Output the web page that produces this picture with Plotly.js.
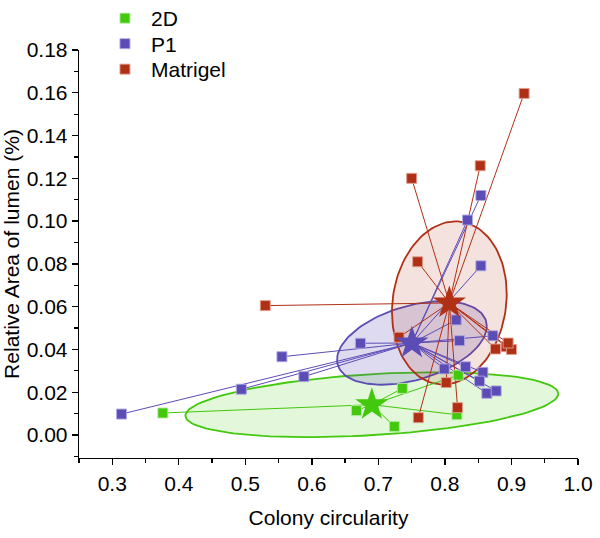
<!DOCTYPE html>
<html>
<head>
<meta charset="utf-8">
<script src="https://cdn.plot.ly/plotly-3.0.1.min.js"></script>
<style>html,body{margin:0;padding:0;background:#fff;}#chart{width:600px;height:538px;}</style>
</head>
<body>
<div id="chart"></div>
<script>
// ---- data ----
var groupNames = ["2D", "P1", "Matrigel"];
var x2D = [0.376, 0.667, 0.736, 0.724, 0.818, 0.820];
var y2D = [0.0103, 0.0114, 0.0218, 0.0040, 0.0095, 0.0280];
var xP1 = [0.314, 0.494, 0.588, 0.555, 0.673, 0.854, 0.834, 0.854, 0.817, 0.822, 0.872, 0.799, 0.831, 0.857, 0.852, 0.863, 0.877];
var yP1 = [0.0098, 0.0214, 0.0273, 0.0366, 0.0429, 0.1120, 0.1005, 0.0791, 0.0538, 0.0441, 0.0464, 0.0309, 0.0319, 0.0293, 0.0252, 0.0195, 0.0206];
var xMat = [0.530, 0.750, 0.759, 0.853, 0.919, 0.731, 0.876, 0.892, 0.900, 0.802, 0.819, 0.760, 0.895];
var yMat = [0.0605, 0.1200, 0.0810, 0.1259, 0.1597, 0.0457, 0.0402, 0.0413, 0.0400, 0.0245, 0.0128, 0.0081, 0.0430];
var xTickVals = [0.3, 0.4, 0.5, 0.6, 0.7, 0.8, 0.9, 1.0];
var yTickVals = [0.00, 0.02, 0.04, 0.06, 0.08, 0.10, 0.12, 0.14, 0.16, 0.18];

// ---- styles ----
var colors = ["rgb(66,200,12)", "rgb(92,76,182)", "rgb(176,48,22)"];
var edge = ["rgba(180,235,160,0.9)", "rgba(175,168,225,0.9)", "rgba(225,160,145,0.9)"];
var fills = ["rgba(66,200,12,0.15)", "rgba(92,76,182,0.2)", "rgba(176,48,22,0.14)"];
var FONT = "Liberation Sans, Arial, sans-serif";
var FS = 21;
var legendIds = ["legend", "legend2", "legend3"];
var legendRowY = [18.5, 44, 69.5]; // px from top of page

function mean(a){ var s=0; for (var i=0;i<a.length;i++) s+=a[i]; return s/a.length; }

// 95% confidence ellipse for the mean (Cholesky of sample covariance)
function ellipse(xs, ys){
  var n = xs.length, mx = mean(xs), my = mean(ys);
  var sxx=0, syy=0, sxy=0;
  for (var i=0;i<n;i++){ var dx=xs[i]-mx, dy=ys[i]-my; sxx+=dx*dx; syy+=dy*dy; sxy+=dx*dy; }
  sxx/=(n-1); syy/=(n-1); sxy/=(n-1);
  var m = n-2;
  var F = m/2*(Math.pow(0.05, -2/m)-1);
  var k = Math.sqrt(2*(n-1)/(n*(n-2))*F);
  var a = Math.sqrt(sxx), b = sxy/a, c = Math.sqrt(Math.max(syy-b*b, 0));
  var ex=[], ey=[];
  for (var j=0;j<=120;j++){
    var t = 2*Math.PI*j/120;
    ex.push(mx + k*a*Math.cos(t));
    ey.push(my + k*(b*Math.cos(t) + c*Math.sin(t)));
  }
  return {x:ex, y:ey};
}

function spokes(xs, ys){
  var mx = mean(xs), my = mean(ys), lx=[], ly=[];
  for (var i=0;i<xs.length;i++){ lx.push(mx, xs[i], null); ly.push(my, ys[i], null); }
  return {x:lx, y:ly};
}

var groups = [[x2D, y2D], [xP1, yP1], [xMat, yMat]];
var traces = [];
groups.forEach(function(g, i){
  var e = ellipse(g[0], g[1]);
  traces.push({x:e.x, y:e.y, mode:"lines", fill:"toself", fillcolor:fills[i],
    line:{color:colors[i], width:1.8}, showlegend:false, hoverinfo:"skip"});
});
groups.forEach(function(g, i){
  var s = spokes(g[0], g[1]);
  traces.push({x:s.x, y:s.y, mode:"lines", line:{color:colors[i], width:1},
    showlegend:false, hoverinfo:"skip"});
});
groups.forEach(function(g, i){
  traces.push({x:g[0], y:g[1], mode:"markers", name:groupNames[i], legend:legendIds[i],
    marker:{symbol:"square", size:10, color:colors[i], line:{color:edge[i], width:1}}});
});
groups.forEach(function(g, i){
  traces.push({x:[mean(g[0])], y:[mean(g[1])], mode:"markers",
    marker:{symbol:"star", size:25, color:colors[i], line:{width:0}},
    showlegend:false, hoverinfo:"skip"});
});

var axisCommon = {
  showgrid:false, zeroline:false, showline:true, linecolor:"#000", linewidth:1.3,
  ticks:"outside", ticklen:6, tickwidth:1.3, tickcolor:"#000",
  tickfont:{family:FONT, size:FS, color:"#000"}
};

var H = 538;
var layout = {
  width:600, height:H,
  margin:{l:79, r:22, t:50, b:80, autoexpand:false},
  paper_bgcolor:"#fff", plot_bgcolor:"#fff",
  font:{family:FONT, size:FS, color:"#000"},
  xaxis:Object.assign({}, axisCommon, {
    range:[0.25, 1.0], tickvals:xTickVals, tickformat:".1f",
    minor:{ticks:"outside", ticklen:4, tickwidth:1.3, tickcolor:"#000", dtick:0.05, tick0:0.25},
    title:{text:"Colony circularity", font:{family:FONT, size:FS, color:"#000"}, standoff:16}
  }),
  yaxis:Object.assign({}, axisCommon, {
    range:[-0.01075, 0.18], tickvals:yTickVals, tickformat:".2f",
    minor:{ticks:"outside", ticklen:4, tickwidth:1.3, tickcolor:"#000", dtick:0.01, tick0:0},
    title:{text:"Relative Area of lumen (%)", font:{family:FONT, size:FS, color:"#000"}, standoff:6}
  }),
  showlegend:true
};
legendIds.forEach(function(id, i){
  layout[id] = {x:0.04, xanchor:"left", xref:"paper",
    y:1 - legendRowY[i]/H, yanchor:"middle", yref:"container",
    bgcolor:"rgba(0,0,0,0)", borderwidth:0,
    font:{family:FONT, size:FS, color:"#000"}, itemwidth:42};
});

Plotly.newPlot("chart", traces, layout, {displayModeBar:false, staticPlot:true});
</script>
</body>
</html>
